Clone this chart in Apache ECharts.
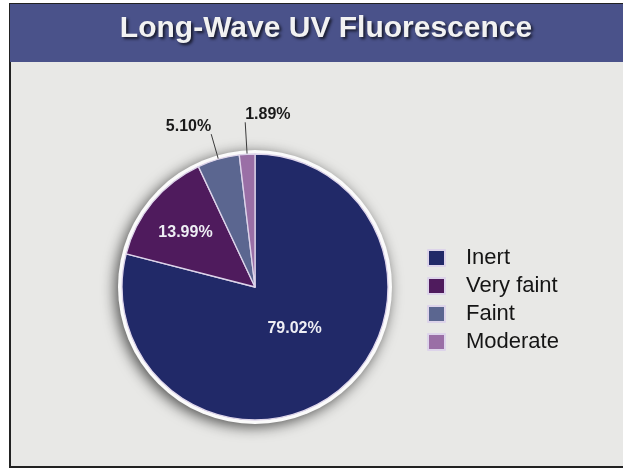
<!DOCTYPE html>
<html>
<head>
<meta charset="utf-8">
<script src="https://cdn.jsdelivr.net/npm/echarts@6/dist/echarts.min.js"></script>
<style>
  html, body { margin: 0; padding: 0; background: #fff; }
  #chart { width: 623px; height: 470px; }
</style>
</head>
<body>
<div id="chart"></div>
<script>
// chart data
const chartTitle = 'Long-Wave UV Fluorescence';
const categories = ['Inert', 'Very faint', 'Faint', 'Moderate'];
const shares = [79.02, 13.99, 5.10, 1.89];
const outsideLabels = ['Faint', 'Moderate'];

const sliceColors = ['#212968', '#4f1b5d', '#5b6690', '#9a6fa6'];
// label tweaks so they sit where the printed chart has them
const labelStyles = {
    'Inert': { nudge: [-3, -13] },
    'Very faint': { nudge: [-16, -10] },
    'Faint': { align: 'right', lineLen: 26 },
    'Moderate': { align: 'left', lineLen: 32 }
};

const pieData = categories.map((name, i) => {
    const item = { name: name, value: shares[i], itemStyle: { color: sliceColors[i] } };
    const ls = labelStyles[name];
    if (outsideLabels.indexOf(name) >= 0) {
        item.label = { position: 'outside', color: '#1a1a1a', distanceToLabelLine: 0 };
        item.labelLine = { show: true, length: ls.lineLen, length2: 0 };
    }
    return item;
});

const chart = echarts.init(document.getElementById('chart'));
chart.setOption({
    animation: false,
    graphic: [
        {
            type: 'rect', z: -10,
            shape: { x: 10, y: 4, width: 630, height: 463 },
            style: { fill: '#e8e8e6', stroke: '#222', lineWidth: 2 }
        },
        {
            type: 'rect', z: -9,
            shape: { x: 10, y: 4, width: 630, height: 58 },
            style: { fill: '#4a528a' }
        }
    ],
    title: {
        text: chartTitle,
        left: 321,
        textAlign: 'center',
        top: 9,
        textStyle: {
            fontFamily: 'Liberation Sans, Arial, sans-serif',
            fontSize: 30,
            fontWeight: 'bold',
            color: '#f2f2f2',
            textShadowColor: 'rgba(0,0,0,0.7)',
            textShadowBlur: 3,
            textShadowOffsetX: 2,
            textShadowOffsetY: 2
        }
    },
    legend: {
        data: categories,
        orient: 'vertical',
        left: 427,
        top: 247,
        padding: 0,
        itemWidth: 17,
        itemHeight: 16,
        itemGap: 6,
        icon: 'rect',
        selectedMode: false,
        textStyle: {
            fontFamily: 'Liberation Sans, Arial, sans-serif',
            fontSize: 22,
            color: '#151515',
            padding: [0, 0, 0, 16]
        }
    },
    series: [
        {
            // white rim with soft shadow behind the pie
            type: 'pie',
            silent: true,
            center: [255, 287],
            radius: 137,
            z: 1,
            label: { show: false },
            labelLine: { show: false },
            itemStyle: {
                color: '#fbfbfb',
                shadowBlur: 14,
                shadowColor: 'rgba(0,0,0,0.65)',
                shadowOffsetX: -3,
                shadowOffsetY: 3
            },
            data: [{ name: 'rim', value: 1 }]
        },
        {
            type: 'pie',
            center: [255, 287],
            radius: 133,
            startAngle: 90,
            clockwise: true,
            avoidLabelOverlap: false,
            z: 2,
            itemStyle: { borderColor: '#ddd4ea', borderWidth: 1.3 },
            label: {
                show: true,
                position: 'inside',
                formatter: p => p.value.toFixed(2) + '%',
                fontFamily: 'Liberation Sans, Arial, sans-serif',
                fontSize: 16,
                fontWeight: 'bold',
                color: '#eeeef4'
            },
            labelLine: { show: false, lineStyle: { color: '#3a3a3a', width: 1 } },
            labelLayout: function (params) {
                const ls = labelStyles[categories[params.dataIndex]];
                if (!ls) return {};
                if (ls.nudge) return { dx: ls.nudge[0], dy: ls.nudge[1] };
                if (ls.align) return { align: ls.align, verticalAlign: 'bottom' };
                return {};
            },
            data: pieData
        }
    ]
});
</script>
</body>
</html>
